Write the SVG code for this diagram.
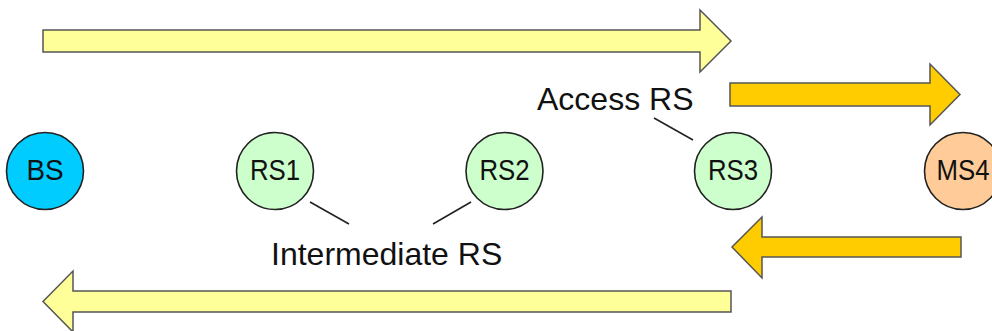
<svg xmlns="http://www.w3.org/2000/svg" width="992" height="331" viewBox="0 0 992 331">
<style>
.arrow{stroke:#555;stroke-width:1.5;stroke-linejoin:miter}
.yel{fill:#FFFF99}
.org{fill:#FFCC00}
.node{stroke:#222;stroke-width:1.6}
.lbl{font-family:"Liberation Sans",Arial,sans-serif;font-size:30px;fill:#111;text-anchor:middle}
.cap{font-family:"Liberation Sans",Arial,sans-serif;font-size:32px;fill:#111}
.conn{stroke:#222;stroke-width:1.6;fill:none}
</style>
<rect width="992" height="331" fill="#fff"/>
<g id="arrows">
<polygon class="arrow yel" points="43,30 700,30 700,10 731,41 700,72 700,52 43,52"/>
<polygon class="arrow org" points="730,83 930,83 930,64 960,94.5 930,125 930,106 730,106"/>
<polygon class="arrow org" points="961,237 762,237 762,217 732,247 762,278 762,257 961,257"/>
<polygon class="arrow yel" points="731,291 73,291 73,271 43,301.5 73,332 73,312 731,312"/>
</g>
<g id="connectors">
<line class="conn" x1="654" y1="118" x2="693" y2="140"/>
<line class="conn" x1="310" y1="202" x2="349" y2="224"/>
<line class="conn" x1="433" y1="224" x2="471" y2="202"/>
</g>
<g id="BS"><circle class="node" cx="45" cy="171" r="38.5" fill="#00CCFF"/><text class="lbl" transform="translate(45,180) scale(0.93,1)">BS</text></g>
<g id="RS1"><circle class="node" cx="275" cy="171" r="38.5" fill="#CCFFCC"/><text class="lbl" transform="translate(275,180) scale(0.86,1)">RS1</text></g>
<g id="RS2"><circle class="node" cx="504.5" cy="171" r="38.5" fill="#CCFFCC"/><text class="lbl" transform="translate(504.5,180) scale(0.86,1)">RS2</text></g>
<g id="RS3"><circle class="node" cx="733" cy="171" r="38.5" fill="#CCFFCC"/><text class="lbl" transform="translate(733,180) scale(0.86,1)">RS3</text></g>
<g id="MS4"><circle class="node" cx="963" cy="171" r="38.5" fill="#FFCC99"/><text class="lbl" transform="translate(963,180) scale(0.86,1)">MS4</text></g>
<g id="labels">
<text class="cap" x="537" y="110">Access RS</text>
<text class="cap" x="271" y="265">Intermediate RS</text>
</g>
</svg>
